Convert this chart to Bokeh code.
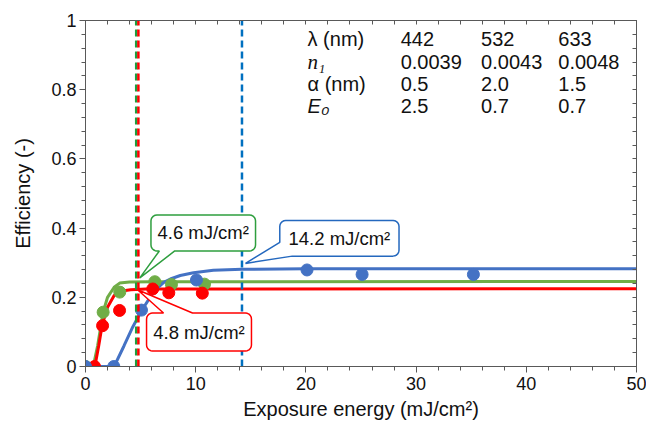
import numpy as np
from bokeh.plotting import figure
from bokeh.models import Range1d, LinearAxis, SingleIntervalTicker, NumeralTickFormatter
from bokeh.core.properties import value
from bokeh.embed import file_html
from bokeh.resources import INLINE

# ---------------- data ----------------
blue_dot_x = [0, 2.57, 5.08, 10.07, 20.1, 25.1, 35.2]
blue_dot_y = [0, 0, 0.163, 0.25, 0.279, 0.266, 0.266]
red_dot_x = [0.82, 1.55, 3.09, 6.1, 7.56, 10.6]
red_dot_y = [0, 0.118, 0.162, 0.224, 0.213, 0.212]
green_dot_x = [0, 1.6, 3.11, 6.29, 7.8, 10.8]
green_dot_y = [0, 0.157, 0.215, 0.245, 0.237, 0.238]

blue_fit_x = [0, 2.6, 3.5, 4.3, 5.1, 6.0, 6.5, 7.1, 7.7, 8.6, 9.8, 11.6, 14.2, 20, 50]
blue_fit_y = [0, 0, 0.06, 0.115, 0.162, 0.207, 0.226, 0.243, 0.253, 0.263, 0.271, 0.278, 0.281, 0.2823, 0.2823]
red_fit_x = [0, 0.85, 1.2, 1.5, 2.0, 2.6, 3.3, 4.1, 5.5, 50]
red_fit_y = [0, 0, 0.06, 0.118, 0.171, 0.205, 0.218, 0.222, 0.224, 0.2245]
green_fit_x = [0, 0.7, 1.1, 1.6, 2.0, 2.6, 3.1, 4.0, 6.0, 50]
green_fit_y = [0, 0, 0.06, 0.157, 0.2, 0.229, 0.241, 0.244, 0.245, 0.2455]

threshold_x = [4.6, 4.8, 14.2]
threshold_colors = ["#1E9E3E", "#FF0000", "#0070C0"]

callout_text = ["4.6 mJ/cm\u00b2", "14.2 mJ/cm\u00b2", "4.8 mJ/cm\u00b2"]
callout_colors = ["#2E9E3E", "#2468BE", "#FF0000"]
callout_box = [  # left, right, bottom, top (data units)
    (5.94, 15.43, 0.334, 0.438),
    (17.63, 28.45, 0.319, 0.422),
    (5.54, 15.06, 0.0448, 0.1546),
]
callout_tip = [(4.93, 0.256), (14.52, 0.298), (4.72, 0.222)]
callout_wedge = [("bottom", 6.7, 8.1), ("corner", 18.76, 0.359), ("top", 7.08, 9.71)]
callout_text_pos = [(10.68, 0.386), (23.04, 0.370), (10.3, 0.0997)]

table_cols = [["\u03bb (nm)", "", "\u03b1 (nm)", ""], ["442", "0.0039", "0.5", "2.5"],
              ["532", "0.0043", "2.0", "0.7"], ["633", "0.0048", "1.5", "0.7"]]
table_italic_rows = ["n\u2081", "E\u2080"]
table_col_x = [20.15, 28.6, 35.9, 42.9]
table_row_y = [0.946, 0.881, 0.816, 0.753]

x_ticks_major = 10
y_ticks_major = 0.2

BLUE = "#4472C4"
RED = "#FF0000"
GREEN = "#70AD47"
FONT = "Liberation Sans"
AX = "#595959"

# ---------------- figure ----------------
p = figure(width=646, height=427, x_range=Range1d(0, 50), y_range=Range1d(0, 1),
           output_backend="svg", toolbar_location=None,
           min_border_left=85, min_border_right=10, min_border_top=20, min_border_bottom=61,
           x_axis_label="Exposure energy (mJ/cm\u00b2)", y_axis_label="Efficiency (-)")
p.background_fill_color = "white"
p.border_fill_color = "white"
p.outline_line_color = AX
p.outline_line_width = 1
p.xgrid.visible = False
p.ygrid.visible = False

xa = p.xaxis[0]
xa.ticker = SingleIntervalTicker(interval=x_ticks_major, num_minor_ticks=5)
ya = p.yaxis[0]
ya.ticker = SingleIntervalTicker(interval=y_ticks_major, num_minor_ticks=5)
ya.formatter = NumeralTickFormatter(format="0.[0]")
for ax in (xa, ya):
    ax.axis_line_color = AX
    ax.major_tick_line_color = AX
    ax.minor_tick_line_color = AX
    ax.major_tick_out = 6
    ax.major_tick_in = 0
    ax.minor_tick_out = 4
    ax.minor_tick_in = 0
    ax.major_label_text_font = FONT
    ax.major_label_text_font_size = "18px"
    ax.major_label_text_color = "#111111"
    ax.axis_label_text_font = FONT
    ax.axis_label_text_font_size = "20px"
    ax.axis_label_text_font_style = "normal"
    ax.axis_label_text_color = "#111111"
xa.major_label_standoff = 4
xa.axis_label_standoff = 5
ya.major_label_standoff = 3
ya.axis_label_standoff = 14

top = LinearAxis(ticker=SingleIntervalTicker(interval=2, num_minor_ticks=0))
right = LinearAxis(ticker=SingleIntervalTicker(interval=0.04, num_minor_ticks=0))
for ax in (top, right):
    ax.axis_line_color = AX
    ax.major_tick_line_color = AX
    ax.major_tick_in = 4
    ax.major_tick_out = 0
    ax.minor_tick_line_color = None
    ax.major_label_text_font_size = "1px"
    ax.major_label_text_color = None
    ax.major_label_standoff = 0
p.add_layout(top, "above")
p.add_layout(right, "right")

# ---------------- fitted curves ----------------
p.line(green_fit_x, green_fit_y, line_color=GREEN, line_width=3)
p.line(red_fit_x, red_fit_y, line_color=RED, line_width=3)
p.line(blue_fit_x, blue_fit_y, line_color=BLUE, line_width=3)

# ---------------- measured points ----------------
p.scatter(green_dot_x, green_dot_y, size=12, fill_color=GREEN, line_color=GREEN)
p.scatter(red_dot_x, red_dot_y, size=12, fill_color=RED, line_color=RED)
p.scatter(blue_dot_x, blue_dot_y, size=12, fill_color=BLUE, line_color=BLUE)

# ---------------- threshold lines ----------------
for xv, c in zip(threshold_x, threshold_colors):
    p.segment(x0=[xv], y0=[0], x1=[xv], y1=[1], line_color=c, line_width=2.5, line_dash="7 4")

# ---------------- callouts ----------------
XS = 551 / 50.0
YS = 346.0
R = 6.0


def arc(cx, cy, a0, a1, n=6):
    t = np.linspace(np.radians(a0), np.radians(a1), n)
    return list(zip(cx + R * np.cos(t), cy + R * np.sin(t)))


def callout_path(box, tip, wedge):
    L, Rr, B, T = box[0] * XS, box[1] * XS, box[2] * YS, box[3] * YS
    tx, ty = tip[0] * XS, tip[1] * YS
    kind = wedge[0]
    pts = []
    pts += arc(L + R, T - R, 180, 90)
    if kind == "top":
        pts += [(wedge[1] * XS, T), (tx, ty), (wedge[2] * XS, T)]
    pts += arc(Rr - R, T - R, 90, 0)
    pts += arc(Rr - R, B + R, 0, -90)
    if kind == "bottom":
        pts += [(wedge[2] * XS, B), (tx, ty), (wedge[1] * XS, B)]
    if kind == "corner":
        pts += [(wedge[1] * XS, B), (tx, ty), (L, wedge[2] * YS)]
    else:
        pts += arc(L + R, B + R, -90, -180)
    xs = [q[0] / XS for q in pts]
    ys = [q[1] / YS for q in pts]
    return xs, ys


for txt, col, box, tip, wd, tp in zip(callout_text, callout_colors, callout_box,
                                       callout_tip, callout_wedge, callout_text_pos):
    xs, ys = callout_path(box, tip, wd)
    p.patch(xs, ys, fill_color="white", line_color=col, line_width=1.5)
    p.text(x=[tp[0]], y=[tp[1]], text=[txt], text_align="center", text_baseline="middle",
           text_font=value(FONT), text_font_size="18.5px", text_color="#111111")

# ---------------- parameter table ----------------
for ci, (cx, col) in enumerate(zip(table_col_x, table_cols)):
    p.text(x=[cx] * len(col), y=table_row_y, text=col, text_align="left", text_baseline="middle",
           text_font=value(FONT), text_font_size="20px", text_color="#111111")
p.text(x=[table_col_x[0]], y=[table_row_y[1]], text=[table_italic_rows[0]], text_align="left",
       text_baseline="middle", text_font=value("Liberation Serif"), text_font_size="21px",
       text_font_style="italic", text_color="#111111")
p.text(x=[table_col_x[0]], y=[table_row_y[3]], text=[table_italic_rows[1]], text_align="left",
       text_baseline="middle", text_font=value(FONT), text_font_size="20px",
       text_font_style="italic", text_color="#111111")

open("out.html", "w").write(file_html(p, INLINE))
